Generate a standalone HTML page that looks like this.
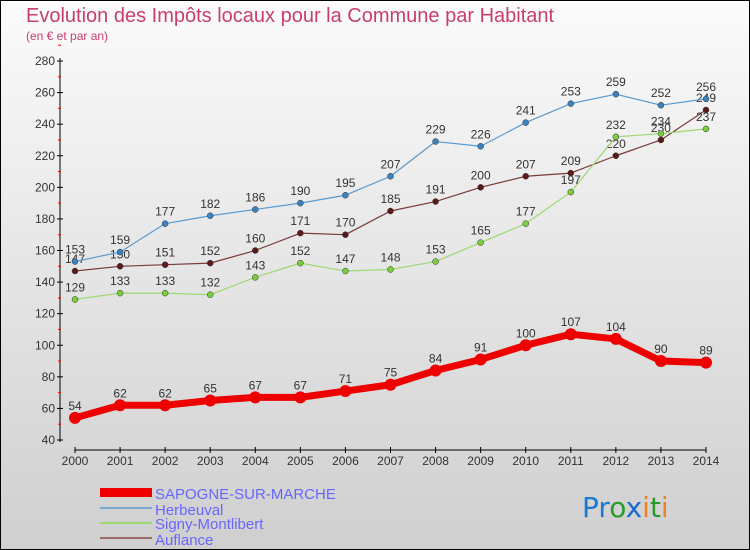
<!DOCTYPE html>
<html><head><meta charset="utf-8"><style>
body{margin:0;width:750px;height:550px;overflow:hidden;font-family:"Liberation Sans",sans-serif}
svg{display:block}
</style></head><body>
<svg width="750" height="550">
<defs><linearGradient id="bg" x1="0" y1="0" x2="0" y2="1"><stop offset="0" stop-color="#fbfbfb"/><stop offset="1" stop-color="#cfcfcf"/></linearGradient></defs>
<rect x="0.5" y="0.5" width="749" height="549" fill="url(#bg)" stroke="#000"/>
<text x="26" y="22" font-size="20" fill="#c8406a">Evolution des Impôts locaux pour la Commune par Habitant</text>
<text x="26" y="40" font-size="12" fill="#c8406a">(en € et par an)</text>
<g id="axes"></g>
<g id="series"></g>
<g>
<rect x="100" y="488" width="52" height="9" fill="#e00"/>
<text x="155" y="499" font-size="15" fill="#66f">SAPOGNE-SUR-MARCHE</text>
<rect x="100" y="507" width="52" height="2" fill="#7aaad0"/>
<text x="155" y="515" font-size="15" fill="#66f">Herbeuval</text>
<rect x="100" y="522" width="52" height="2" fill="#9ed870"/>
<text x="155" y="529" font-size="15" fill="#66f">Signy-Montlibert</text>
<rect x="100" y="537" width="52" height="2" fill="#9a6a6a"/>
<text x="155" y="545" font-size="15" fill="#66f">Auflance</text>
</g>
<g font-size="28" font-family="'DejaVu Sans',sans-serif">
<text x="582" y="517"><tspan fill="#1a7ad0">Pr</tspan><tspan fill="#2a9a2a">o</tspan><tspan fill="#1a6ad0">x</tspan><tspan fill="#f08020">i</tspan><tspan fill="#2a9a2a">t</tspan><tspan fill="#f08020">i</tspan></text>
</g>
</svg>
<script>
const years=[2000,2001,2002,2003,2004,2005,2006,2007,2008,2009,2010,2011,2012,2013,2014];
const yTicks=[40,60,80,100,120,140,160,180,200,220,240,260,280];
const sapogne=[54,62,62,65,67,67,71,75,84,91,100,107,104,90,89];
const herbeuval=[153,159,177,182,186,190,195,207,229,226,241,253,259,252,256];
const signy=[129,133,133,132,143,152,147,148,153,165,177,197,232,234,237];
const auflance=[147,150,151,152,160,171,170,185,191,200,207,209,220,230,249];
const NS="http://www.w3.org/2000/svg";
function xs(i){return 75+i*(706-75)/(years.length-1);}
function ys(v){return 440-(v-40)*(440-61)/240;}
function el(t,a,p){const e=document.createElementNS(NS,t);for(const k in a)e.setAttribute(k,a[k]);p.appendChild(e);return e;}
const ax=document.getElementById('axes');
const yl=el('line',{x1:60,y1:58,x2:60,y2:442,stroke:'#000','stroke-width':1},ax);


yTicks.forEach(v=>{
 el('line',{x1:57,y1:ys(v),x2:63,y2:ys(v),stroke:'#000'},ax);
 el('line',{x1:58,y1:ys(v+10),x2:61,y2:ys(v+10),stroke:'#f00'},ax);
 const t=el('text',{x:55,y:ys(v)+4,'font-size':12,fill:'#333','text-anchor':'end'},ax);t.textContent=v;
 
 
});
const xl=el('line',{x1:75,y1:450,x2:706,y2:450,stroke:'#000'},ax);


years.forEach((y,i)=>{
 el('line',{x1:xs(i),y1:447,x2:xs(i),y2:453,stroke:'#000'},ax);
 const t=el('text',{x:xs(i),y:465,'font-size':12,fill:'#333','text-anchor':'middle'},ax);t.textContent=y;
 
 
});
const sg=document.getElementById('series');
function draw(data,name,color,dot,w,r,fs){
 const g=el('g',{},sg);
 
 
 el('polyline',{points:data.map((v,i)=>xs(i)+','+ys(v)).join(' '),fill:'none',stroke:color,'stroke-width':w,'stroke-linejoin':'round'},g);
 data.forEach((v,i)=>{
  const c=el('circle',{cx:xs(i),cy:ys(v),r:r,fill:dot,stroke:'#333','stroke-width':r>4?0:0.5},g);
  
  
  const t=el('text',{x:xs(i),y:ys(v)-8,'font-size':fs,fill:'#333','text-anchor':'middle'},g);t.textContent=v;
  
  
 });
}
draw(auflance,'auflance','#7a3a3a','#5a1a1a',1.2,3,12);
draw(signy,'signy','#9ed870','#7ccc40',1.2,3,12);
draw(herbeuval,'herbeuval','#5a9ad0','#3a82c0',1.2,3,12);
draw(sapogne,'sapogne','#e00','#e00',7,6,12);
</script>
</body></html>
